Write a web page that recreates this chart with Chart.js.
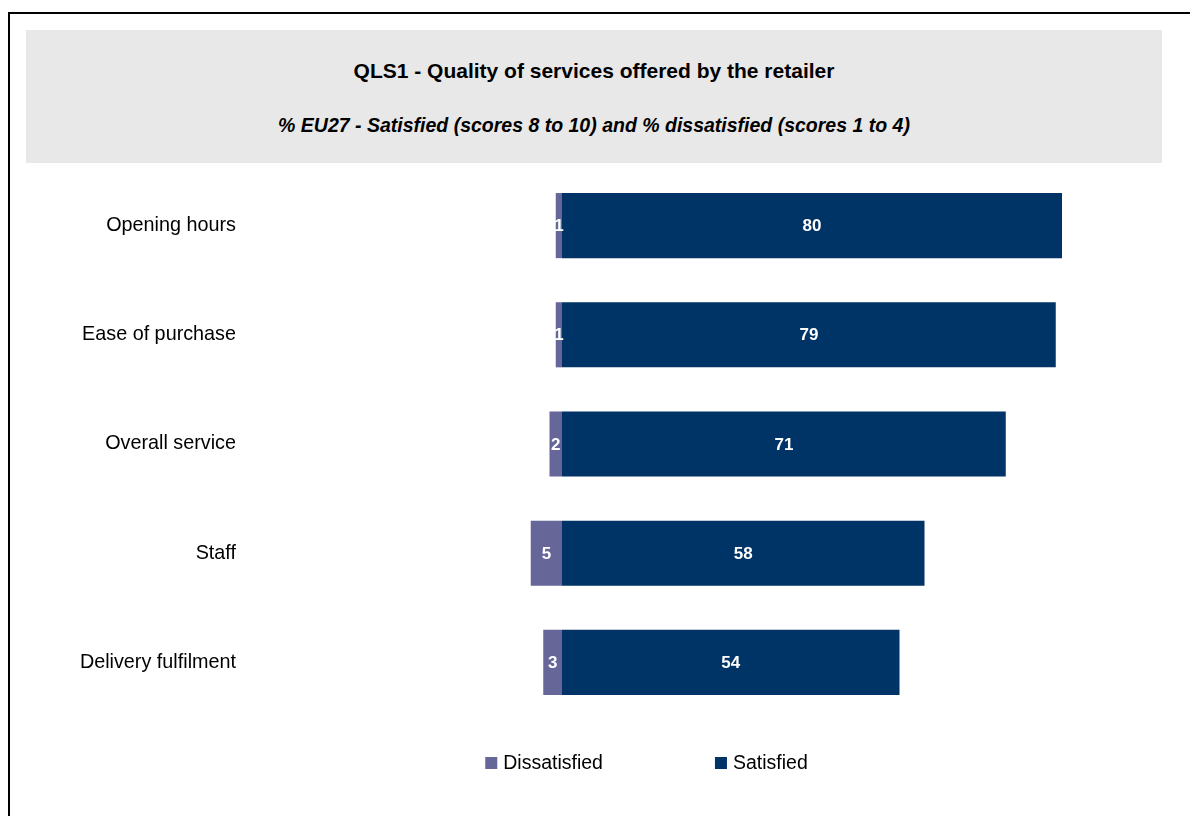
<!DOCTYPE html>
<html>
<head>
<meta charset="utf-8">
<script src="https://cdn.jsdelivr.net/npm/chart.js@4.4.1/dist/chart.umd.min.js"></script>
<style>
  html, body { margin: 0; padding: 0; background: #fff; }
  body { width: 1190px; height: 816px; overflow: hidden; position: relative; font-family: "Liberation Sans", Arial, sans-serif; }
  #frame { position: absolute; left: 8px; top: 12px; width: 1200px; height: 820px; border-left: 2px solid #000; border-top: 2px solid #000; }
  #head { position: absolute; left: 26px; top: 30px; width: 1136px; height: 133px; background: #e8e8e8; }
  #head .t1 { position: absolute; left: 0; right: 0; top: 29px; text-align: center; font-weight: bold; font-size: 21px; line-height: 24px; color: #000; }
  #head .t2 { position: absolute; left: 0; right: 0; top: 84px; text-align: center; font-weight: bold; font-style: italic; font-size: 19.5px; color: #000; }
  #chart { position: absolute; left: 0; top: 0; }
</style>
</head>
<body>
<div id="frame"></div>
<div id="head">
  <div class="t1">QLS1 - Quality of services offered by the retailer</div>
  <div class="t2">% EU27 - Satisfied (scores 8 to 10) and % dissatisfied (scores 1 to 4)</div>
</div>
<canvas id="chart" width="1190" height="816"></canvas>
<script>
const categories = ['Opening hours', 'Ease of purchase', 'Overall service', 'Staff', 'Delivery fulfilment'];
const dissatisfied = [1, 1, 2, 5, 3];
const satisfied = [80, 79, 71, 58, 54];

const colDissatisfied = '#666699';
const colSatisfied = '#003366';
const labelFont = '"Liberation Sans", Arial, sans-serif';

// white value labels in the middle of each bar segment
const barValues = {
    id: 'barValues',
    afterDatasetsDraw(chart) {
        const ctx = chart.ctx;
        ctx.save();
        ctx.fillStyle = '#fff';
        ctx.font = 'bold 17px ' + labelFont;
        ctx.textAlign = 'center';
        ctx.textBaseline = 'middle';
        chart.data.datasets.forEach((ds, i) => {
            chart.getDatasetMeta(i).data.forEach((bar, j) => {
                const p = bar.getProps(['x', 'y', 'base'], true);
                ctx.fillText(Math.abs(ds.data[j]), (p.x + p.base) / 2, p.y + 1);
            });
        });
        ctx.restore();
    }
};

// legend row under the bars, wide gap between the two keys
const keyRow = {
    id: 'keyRow',
    afterDraw(chart) {
        const ctx = chart.ctx;
        const box = 12, gap = 6, spacing = 112, cx = 646.5, cy = 763;
        ctx.save();
        ctx.font = '19.5px ' + labelFont;
        ctx.textBaseline = 'middle';
        const items = chart.data.datasets.map(ds => ({
            text: ds.label, color: ds.backgroundColor,
            w: box + gap + ctx.measureText(ds.label).width
        }));
        const total = items.reduce((s, it) => s + it.w, 0) + spacing * (items.length - 1);
        let x = cx - total / 2;
        items.forEach(it => {
            ctx.fillStyle = it.color;
            ctx.fillRect(x, cy - box / 2, box, box);
            ctx.fillStyle = '#000';
            ctx.fillText(it.text, x + box + gap, cy + 1);
            x += it.w + spacing;
        });
        ctx.restore();
    }
};

new Chart(document.getElementById('chart'), {
    type: 'bar',
    data: {
        labels: categories,
        datasets: [
            { label: 'Dissatisfied', data: dissatisfied.map(v => -v), backgroundColor: colDissatisfied },
            { label: 'Satisfied', data: satisfied, backgroundColor: colSatisfied }
        ]
    },
    options: {
        indexAxis: 'y',
        responsive: false,
        animation: false,
        layout: { padding: { top: 171, bottom: 99, left: 0, right: 28 } },
        datasets: { bar: { categoryPercentage: 1, barPercentage: 0.596 } },
        scales: {
            x: { stacked: true, min: -52, max: 96, display: false },
            y: {
                stacked: true,
                grid: { display: false, drawTicks: false },
                border: { display: false },
                ticks: { color: '#000', padding: 1, font: { family: labelFont, size: 19.8 } },
                afterFit(scale) { scale.width = 237; }
            }
        },
        plugins: {
            legend: { display: false },
            tooltip: { enabled: false }
        }
    },
    plugins: [barValues, keyRow]
});
</script>
</body>
</html>
